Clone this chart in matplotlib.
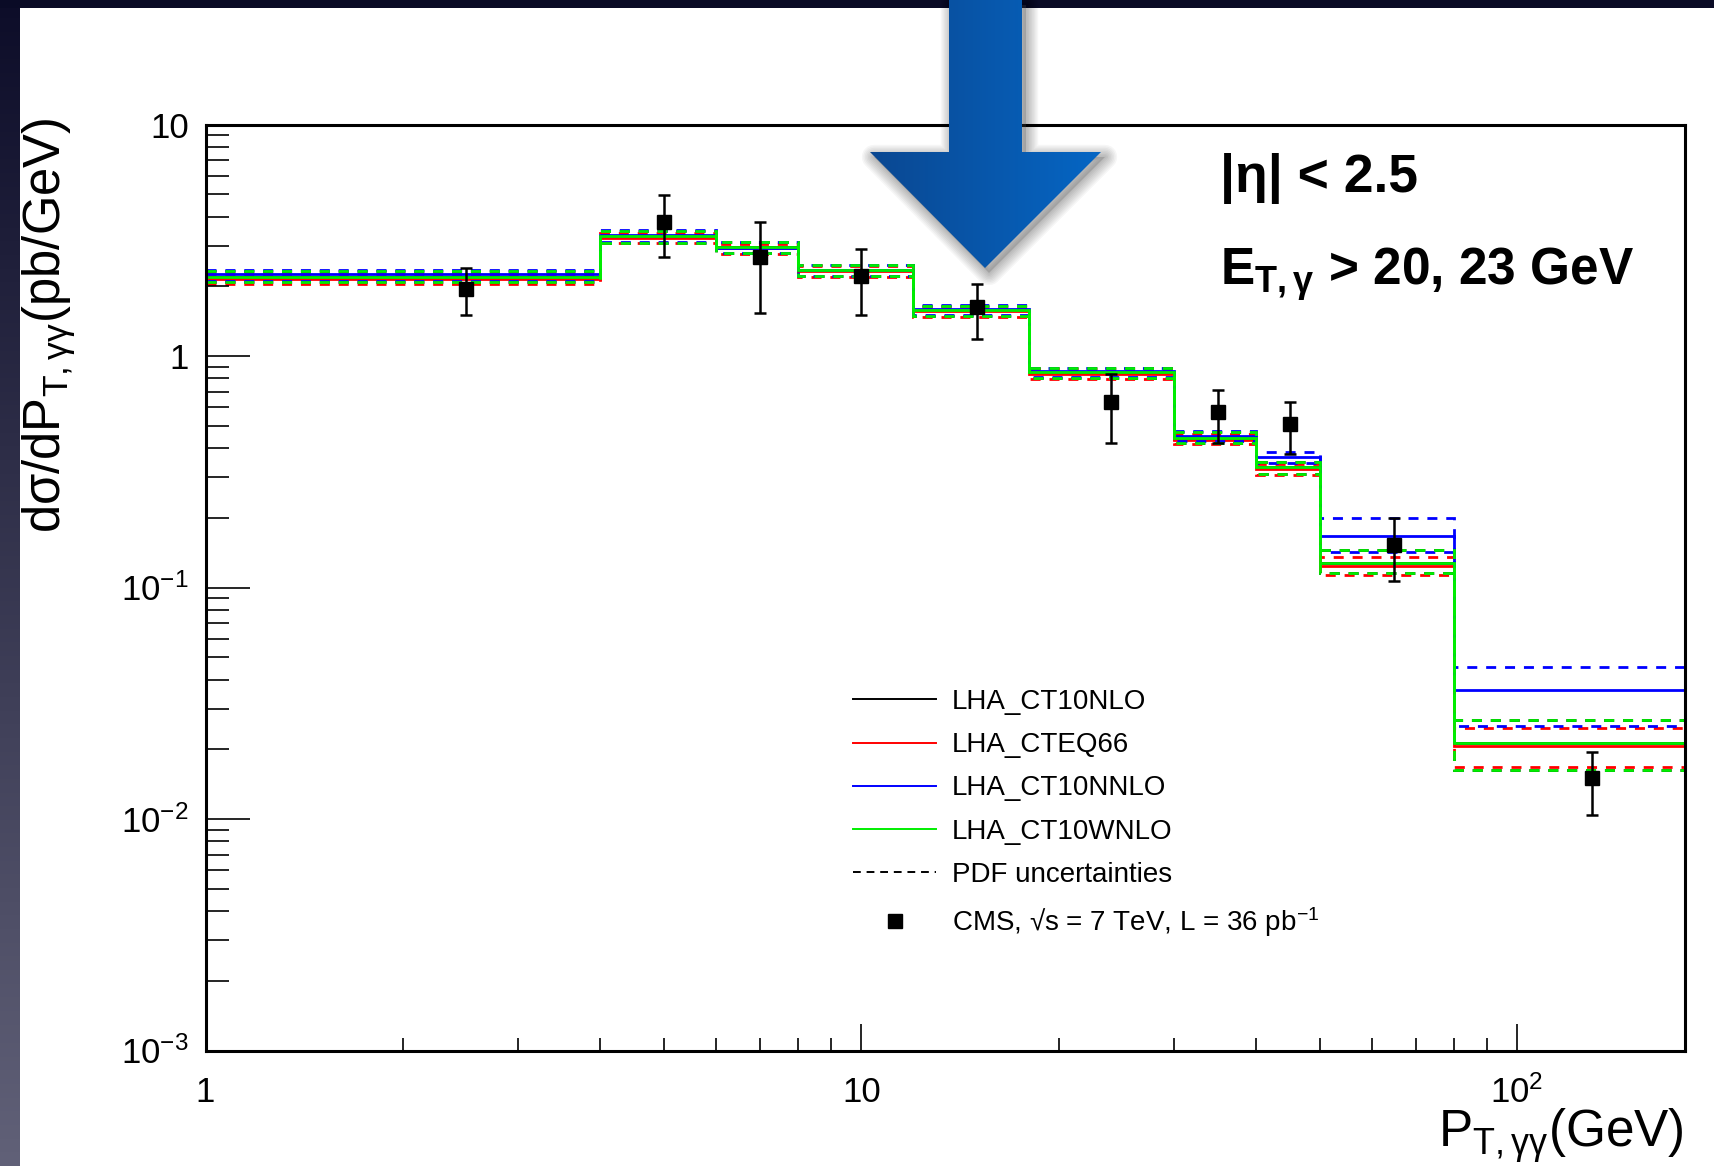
import numpy as np
import matplotlib
matplotlib.use("Agg")
import matplotlib.pyplot as plt
from matplotlib.lines import Line2D
from matplotlib.patches import Polygon
from matplotlib.ticker import FixedLocator, FixedFormatter, NullFormatter, LogLocator

plt.rcParams['font.family'] = ['Liberation Sans', 'DejaVu Sans']
plt.rcParams['mathtext.fontset'] = 'custom'
plt.rcParams['mathtext.rm'] = 'Liberation Sans'
plt.rcParams['mathtext.it'] = 'Liberation Sans'
plt.rcParams['mathtext.bf'] = 'Liberation Sans:bold'
plt.rcParams['mathtext.sf'] = 'Liberation Sans'

# bins in P_T,gg (GeV)
edges = [1, 4, 6, 8, 12, 18, 30, 40, 50, 80, 180]

# LHA_CT10NLO (black)
ct10nlo = [2.20, 3.30, 2.95, 2.35, 1.58, 0.85, 0.440, 0.330, 0.128, 0.0212]
ct10nlo_up = [2.32, 3.48, 3.11, 2.47, 1.65, 0.886, 0.469, 0.350, 0.145, 0.0268]
ct10nlo_dn = [2.09, 3.09, 2.78, 2.21, 1.49, 0.807, 0.423, 0.310, 0.115, 0.0162]
# LHA_CTEQ66 (red)
cteq66 = [2.15, 3.23, 2.92, 2.33, 1.56, 0.84, 0.434, 0.324, 0.124, 0.0207]
cteq66_up = [2.27, 3.40, 3.06, 2.44, 1.63, 0.875, 0.460, 0.342, 0.135, 0.0248]
cteq66_dn = [2.05, 3.07, 2.76, 2.19, 1.48, 0.797, 0.418, 0.306, 0.113, 0.0168]
# LHA_CT10NNLO (blue)
ct10nnlo = [2.25, 3.33, 2.94, 2.36, 1.59, 0.86, 0.453, 0.365, 0.167, 0.0360]
ct10nnlo_up = [2.36, 3.50, 3.10, 2.48, 1.66, 0.89, 0.472, 0.386, 0.1996, 0.0454]
ct10nnlo_dn = [2.10, 3.12, 2.79, 2.22, 1.50, 0.81, 0.428, 0.345, 0.1425, 0.0252]
# LHA_CT10WNLO (green)
ct10wnlo = [2.20, 3.30, 2.96, 2.35, 1.58, 0.85, 0.442, 0.331, 0.128, 0.0212]
ct10wnlo_up = [2.32, 3.48, 3.11, 2.47, 1.65, 0.886, 0.469, 0.350, 0.145, 0.0268]
ct10wnlo_dn = [2.09, 3.09, 2.78, 2.21, 1.49, 0.807, 0.423, 0.310, 0.115, 0.0162]

# CMS data
cms_x = [2.5, 5, 7, 10, 15, 24, 35, 45, 65, 130]
cms_y = [1.95, 3.81, 2.69, 2.22, 1.62, 0.634, 0.571, 0.509, 0.153, 0.0150]
cms_hi = [2.41, 4.95, 3.78, 2.90, 2.05, 0.834, 0.714, 0.635, 0.200, 0.0194]
cms_lo = [1.51, 2.67, 1.53, 1.51, 1.19, 0.423, 0.423, 0.377, 0.107, 0.0104]

models = [
    ("LHA_CT10NLO", "black", ct10nlo, ct10nlo_up, ct10nlo_dn),
    ("LHA_CTEQ66", "#ff0000", cteq66, cteq66_up, cteq66_dn),
    ("LHA_CT10NNLO", "#0000ff", ct10nnlo, ct10nnlo_up, ct10nnlo_dn),
    ("LHA_CT10WNLO", "#00ee00", ct10wnlo, ct10wnlo_up, ct10wnlo_dn),
]

W, H = 1714, 1166
fig = plt.figure(figsize=(W / 100, H / 100), dpi=100)
fig.patch.set_facecolor("white")

# slide background strips
left = fig.add_axes([0, 0, 20 / W, 1])
grad = np.linspace(0, 1, 256).reshape(-1, 1)
c0 = np.array([0.05, 0.05, 0.16])
c1 = np.array([0.38, 0.38, 0.47])
img = c0 + (c1 - c0) * grad[..., None]
left.imshow(img, aspect="auto", extent=(0, 1, 0, 1), origin="upper")
left.axis("off")
top = fig.add_axes([0, 1 - 8 / H, 1, 8 / H])
top.set_facecolor("#0a0b26")
top.set_xticks([]); top.set_yticks([])
for s in top.spines.values():
    s.set_visible(False)

ax = fig.add_axes([205.5 / W, 1 - 1050.5 / H, 1479 / W, 926 / H])
ax.set_xscale("log")
ax.set_yscale("log")

dash = (0, (3.6, 3.2))
for name, col, cen, up, dn in models:
    ax.stairs(cen, edges, baseline=1e-3, color=col, lw=2.0)
    ax.stairs(up, edges, baseline=None, color=col, lw=2.0, linestyle=dash)
    ax.stairs(dn, edges, baseline=None, color=col, lw=2.0, linestyle=dash)

y = np.array(cms_y)
yerr = [y - np.array(cms_lo), np.array(cms_hi) - y]
ax.errorbar(cms_x, cms_y, yerr=yerr, fmt="s", color="black", ms=10.5,
            elinewidth=1.8, capsize=4.6, capthick=1.8, zorder=5)

ax.set_xlim(1, 180)
ax.set_ylim(1e-3, 10)

for s in ax.spines.values():
    s.set_linewidth(2.2)

ax.xaxis.set_major_locator(FixedLocator([1, 10, 100]))
ax.xaxis.set_major_formatter(FixedFormatter(["1", "10", "10$^{2}$"]))
ax.xaxis.set_minor_locator(LogLocator(base=10, subs=np.arange(2, 10)))
ax.xaxis.set_minor_formatter(NullFormatter())
ax.yaxis.set_major_locator(FixedLocator([1e-3, 1e-2, 1e-1, 1, 10]))
ax.yaxis.set_major_formatter(FixedFormatter(["10$^{-3}$", "10$^{-2}$", "10$^{-1}$", "1", "10"]))
ax.yaxis.set_minor_locator(LogLocator(base=10, subs=np.arange(2, 10)))
ax.yaxis.set_minor_formatter(NullFormatter())

ax.tick_params(which="both", direction="in", top=False, right=False, width=1.2, labelsize=25)
ax.tick_params(axis="y", which="major", length=31.7, pad=12)
ax.tick_params(axis="y", which="minor", length=16.6)
ax.tick_params(axis="x", which="major", length=19.4, pad=18)
ax.tick_params(axis="x", which="minor", length=9.4)

fig.text(49 / W, 1 - 118 / H, "dσ/dP$_{T,γγ}$(pb/GeV)", rotation=90,
         ha="center", va="top", fontsize=36.5)
fig.text(1684 / W, 1 - 1147 / H, "P$_{T,γγ}$(GeV)", ha="right", va="baseline", fontsize=37)

fig.text(1220 / W, 1 - 192 / H, "|η| < 2.5", fontsize=38.5, fontweight="bold",
         ha="left", va="baseline")
fig.text(1220 / W, 1 - 285 / H, r"$\mathbf{E_{T,γ}}$ > 20, 23 GeV", fontsize=37,
         fontweight="bold", ha="left", va="baseline")

handles = [Line2D([], [], color=col, lw=1.4) for _, col, *_ in models]
labels = [m[0] for m in models]
handles.append(Line2D([], [], color="black", lw=1.4, linestyle=(0, (4, 3))))
labels.append("PDF uncertainties")
handles.append(Line2D([], [], color="black", marker="s", ms=10, linestyle="none"))
labels.append("CMS, √s = 7 TeV, L = 36 pb$^{-1}$")
ax.legend(handles, labels, loc="upper left", bbox_to_anchor=(853 / W, 1 - 689 / H),
          bbox_transform=fig.transFigure, frameon=False, fontsize=20,
          handlelength=3.0, handletextpad=0.55, labelspacing=0.62,
          borderpad=0, borderaxespad=0)

# blue arrow overlay
ov = fig.add_axes([0, 0, 1, 1], zorder=10)
ov.set_xlim(0, W)
ov.set_ylim(H, 0)
ov.axis("off")
arrow = [(949, 0), (1022, 0), (1022, 152), (1101, 152), (985, 268), (870, 152), (949, 152)]
for k in range(8, 0, -1):
    sh = Polygon([(px + 4, py + 5) for px, py in arrow], closed=True,
                 facecolor="none", edgecolor="black", lw=k * 2.2, alpha=0.035,
                 joinstyle="round")
    ov.add_patch(sh)
ov.add_patch(Polygon([(px + 4, py + 5) for px, py in arrow], closed=True,
                     facecolor="#555555", edgecolor="none", alpha=0.25))
poly = Polygon(arrow, closed=True, facecolor="none", edgecolor="none")
ov.add_patch(poly)
hgrad = np.linspace(0, 1, 256).reshape(1, -1)
a0 = np.array([0.04, 0.28, 0.57])
a1 = np.array([0.02, 0.40, 0.77])
aimg = a0 + (a1 - a0) * hgrad[..., None]
im = ov.imshow(aimg, extent=(870, 1101, 268, 0), aspect="auto", zorder=11)
im.set_clip_path(poly)
ov.set_xlim(0, W)
ov.set_ylim(H, 0)

fig.savefig("out.png", dpi=100, facecolor=fig.get_facecolor())
